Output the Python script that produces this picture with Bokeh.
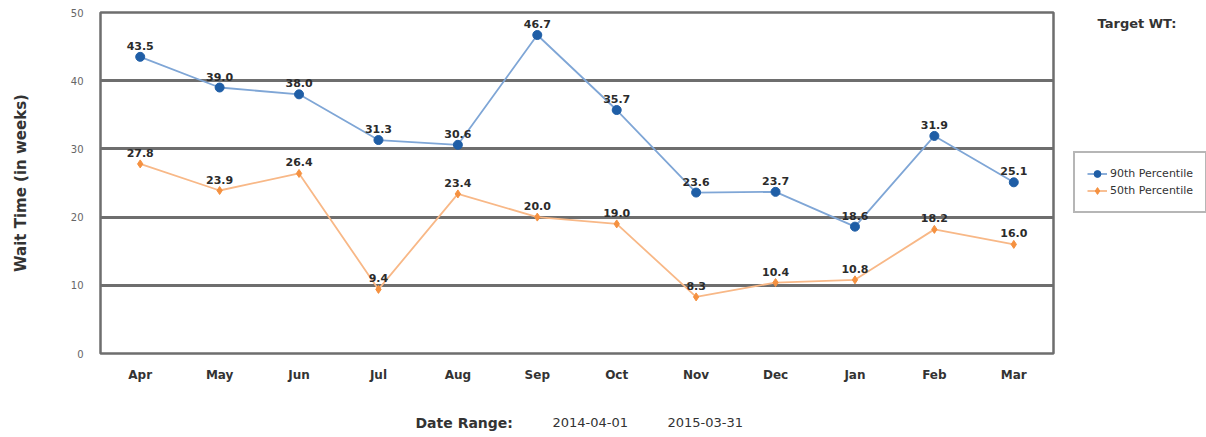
from bokeh.plotting import figure
from bokeh.models import ColumnDataSource, Label, Legend, LegendItem, FixedTicker, Range1d
from bokeh.layouts import column, row
from bokeh.embed import file_html
from bokeh.resources import INLINE

months = ["Apr", "May", "Jun", "Jul", "Aug", "Sep", "Oct", "Nov", "Dec", "Jan", "Feb", "Mar"]
p90 = [43.5, 39.0, 38.0, 31.3, 30.6, 46.7, 35.7, 23.6, 23.7, 18.6, 31.9, 25.1]
p50 = [27.8, 23.9, 26.4, 9.4, 23.4, 20.0, 19.0, 8.3, 10.4, 10.8, 18.2, 16.0]
y_ticks = [0, 10, 20, 30, 40, 50]
series_names = ["90th Percentile", "50th Percentile"]
date_from = "2014-04-01"
date_to = "2015-03-31"

FONT = "DejaVu Sans"
BLUE_M, BLUE_L = "#1f5ea6", "#7fa6d6"
ORNG_M, ORNG_L = "#f59140", "#f8b887"
TXT = "#333333"
GRID = "#6e6e6e"

src90 = ColumnDataSource(dict(x=months, y=p90, t=["%.1f" % v for v in p90]))
src50 = ColumnDataSource(dict(x=months, y=p50, t=["%.1f" % v for v in p50]))

# ---------------- main chart ----------------
p = figure(x_range=months, y_range=(0, 50), frame_width=953, frame_height=341,
           output_backend="svg", toolbar_location=None,
           min_border_left=100, min_border_right=2, min_border_top=12, min_border_bottom=36)

p.outline_line_color = GRID
p.outline_line_width = 2.5
p.xgrid.grid_line_color = None
p.ygrid.grid_line_color = GRID
p.ygrid.grid_line_width = 3
p.ygrid.ticker = FixedTicker(ticks=[10, 20, 30, 40])

p.yaxis.ticker = FixedTicker(ticks=y_ticks)
p.yaxis.axis_line_color = None
p.yaxis.major_tick_line_color = None
p.yaxis.minor_tick_line_color = None
p.yaxis.major_label_text_font = FONT
p.yaxis.major_label_text_font_size = "10px"
p.yaxis.major_label_text_color = "#666666"
p.yaxis.major_label_standoff = 11
p.yaxis.axis_label = "Wait Time (in weeks)"
p.yaxis.axis_label_text_font = FONT
p.yaxis.axis_label_text_font_style = "bold"
p.yaxis.axis_label_text_font_size = "15px"
p.yaxis.axis_label_text_color = TXT
p.yaxis.axis_label_standoff = 38

p.xaxis.axis_line_color = None
p.xaxis.major_tick_line_color = None
p.xaxis.major_label_text_font = FONT
p.xaxis.major_label_text_font_style = "bold"
p.xaxis.major_label_text_font_size = "12px"
p.xaxis.major_label_text_color = TXT
p.xaxis.major_label_standoff = 8

p.line("x", "y", source=src90, line_color=BLUE_L, line_width=1.8)
p.scatter("x", "y", source=src90, size=9, fill_color=BLUE_M, line_color=BLUE_M)
p.line("x", "y", source=src50, line_color=ORNG_L, line_width=1.8)
p.scatter("x", "y", source=src50, size=8, fill_color=ORNG_M, line_color=ORNG_M, marker="diamond")

for src in (src90, src50):
    p.text("x", "y", text="t", source=src, y_offset=-7, text_align="center",
           text_baseline="bottom", text_font_size="11px", text_font_style="bold",
           text_color="#2b2b2b", text_font={"value": FONT})

# ---------------- right panel: target + legend ----------------
r = figure(width=151, height=389, x_range=Range1d(0, 151), y_range=Range1d(389, 0),
           output_backend="svg", toolbar_location=None,
           x_axis_location=None, y_axis_location=None, min_border=0)
r.outline_line_color = None
r.grid.visible = False

nan = float("nan")
d90l = r.line(x=[nan], y=[nan], line_color=BLUE_L, line_width=1.8)
d90s = r.scatter(x=[nan], y=[nan], size=9, fill_color=BLUE_M, line_color=BLUE_M)
d50l = r.line(x=[nan], y=[nan], line_color=ORNG_L, line_width=1.8)
d50s = r.scatter(x=[nan], y=[nan], size=8, fill_color=ORNG_M, line_color=ORNG_M, marker="diamond")

legend = Legend(items=[LegendItem(label=series_names[0], renderers=[d90l, d90s]),
                       LegendItem(label=series_names[1], renderers=[d50l, d50s])],
                location=(18, 140))
legend.label_text_font = FONT
legend.label_text_font_size = "11px"
legend.label_text_color = TXT
legend.label_height = 17
legend.glyph_height = 17
legend.glyph_width = 20
legend.label_standoff = 3
legend.spacing = 0
legend.padding = 12
legend.margin = 0
legend.border_line_color = GRID
legend.border_line_width = 2
r.add_layout(legend, "center")

r.add_layout(Label(x=42, y=12, text="Target WT:", text_font=FONT, text_font_size="13px",
                   text_font_style="bold", text_color=TXT, text_baseline="middle",
                   text_align="left"))

# ---------------- bottom panel: date range ----------------
b = figure(width=1206, height=48, x_range=Range1d(0, 1206), y_range=Range1d(48, 0),
           output_backend="svg", toolbar_location=None,
           x_axis_location=None, y_axis_location=None, min_border=0)
b.outline_line_color = None
b.grid.visible = False

def blab(x, text, bold):
    b.add_layout(Label(x=x, y=33, text=text, text_font=FONT,
                       text_font_size="14px" if bold else "13px",
                       text_font_style="bold" if bold else "normal",
                       text_color=TXT, text_baseline="middle", text_align="left"))

blab(415, "Date Range:", True)
blab(552, date_from, False)
blab(667, date_to, False)

layout = column(row(p, r, spacing=0), b, spacing=0)
open("out.html", "w").write(file_html(layout, INLINE))
